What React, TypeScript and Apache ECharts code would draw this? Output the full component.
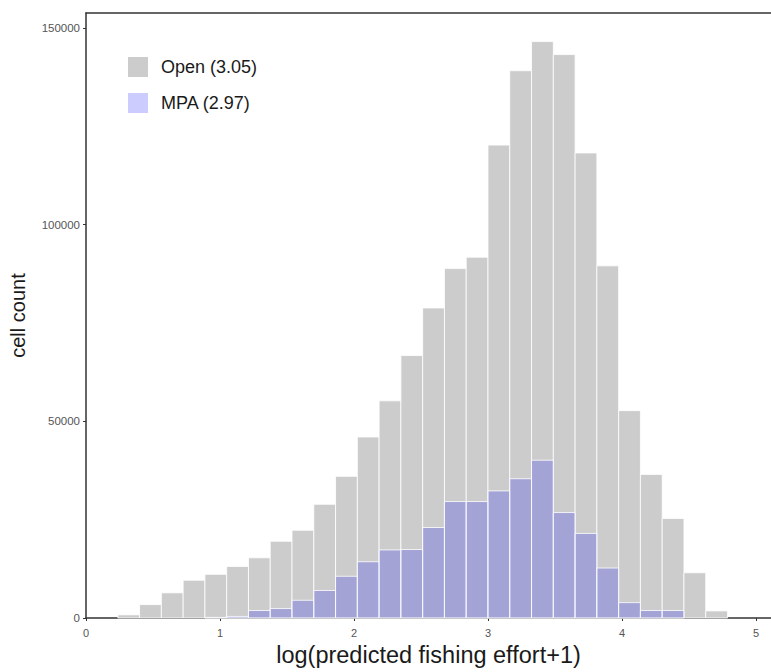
import React, { useEffect, useRef } from "react";
import * as echarts from "echarts";

// Histogram definition (log(predicted fishing effort+1))
const binStart = 0.2375;
const binWidth = 0.1625;

const openCounts = [
  800, 3400, 6400, 9600, 11100, 13100, 15300, 19500, 22300, 28900, 36000, 46000,
  55200, 66700, 78800, 88800, 91700, 120200, 139100, 146500, 143200, 118200,
  89500, 52700, 36500, 25300, 11500, 1800,
];

const mpaCounts = [
  0, 0, 0, 0, 150, 400, 1900, 2400, 4500, 7000, 10600, 14300, 17300, 17400,
  23000, 29600, 29600, 32300, 35400, 40100, 26800, 21500, 12700, 3900, 1900,
  1900, 0, 0,
];

const xTicks = [0, 1, 2, 3, 4, 5];
const yTicks = [0, 50000, 100000, 150000];

const openName = "Open (3.05)";
const mpaName = "MPA (2.97)";

const FONT = "Liberation Sans, Arial, Helvetica, sans-serif";

function toBins(counts: number[]) {
  return counts.map((c, i) => [binStart + i * binWidth, binStart + (i + 1) * binWidth, c]);
}

function renderBin(params: any, api: any) {
  const x0 = api.value(0);
  const x1 = api.value(1);
  const c = api.value(2);
  if (!c) return null;
  const p0 = api.coord([x0, c]);
  const p1 = api.coord([x1, 0]);
  return {
    type: "rect",
    shape: { x: p0[0], y: p0[1], width: p1[0] - p0[0], height: p1[1] - p0[1] },
    style: api.style({ stroke: "#ffffff", lineWidth: 0.8 }),
  };
}

export default function App() {
  const ref = useRef<HTMLDivElement>(null);

  useEffect(() => {
    if (!ref.current) return;
    const chart = echarts.init(ref.current, undefined, { renderer: "svg" });
    chart.setOption({
      animation: false,
      backgroundColor: "#ffffff",
      textStyle: { fontFamily: FONT },
      grid: { left: 86, right: 0, top: 13, bottom: 51, containLabel: false },
      legend: {
        orient: "vertical",
        left: 128,
        top: 57,
        padding: 0,
        itemWidth: 20,
        itemHeight: 20,
        itemGap: 16,
        icon: "rect",
        textStyle: { fontSize: 18, color: "#1a1a1a", fontFamily: FONT, padding: [0, 0, 0, 8] },
        data: [openName, mpaName],
      },
      xAxis: [
        {
          type: "value",
          min: 0,
          max: 5.112,
          position: "bottom",
          name: "log(predicted fishing effort+1)",
          nameLocation: "middle",
          nameGap: 25,
          nameTextStyle: { fontSize: 23.5, color: "#1a1a1a", fontFamily: FONT, verticalAlign: "top" },
          axisLine: { show: true, lineStyle: { color: "#333333", width: 1.5 } },
          axisTick: { show: true, length: 3, customValues: xTicks, lineStyle: { color: "#333333" } },
          axisLabel: {
            show: true,
            customValues: xTicks,
            fontSize: 11,
            color: "#555555",
            margin: 9,
            formatter: (v: number) => String(v),
          },
          splitLine: { show: false },
        },
        {
          type: "value",
          min: 0,
          max: 5.112,
          position: "top",
          axisLine: { show: true, lineStyle: { color: "#333333", width: 1.5 } },
          axisTick: { show: false },
          axisLabel: { show: false },
          splitLine: { show: false },
        },
      ],
      yAxis: {
        type: "value",
        min: 0,
        max: 153770,
        name: "cell count",
        nameLocation: "middle",
        nameGap: 58,
        nameRotate: 90,
        nameTextStyle: { fontSize: 20, color: "#1a1a1a", fontFamily: FONT },
        axisLine: { show: true, lineStyle: { color: "#333333", width: 1.5 } },
        axisTick: { show: true, length: 3, customValues: yTicks, lineStyle: { color: "#333333" } },
        axisLabel: {
          show: true,
          customValues: yTicks,
          fontSize: 11.5,
          color: "#555555",
          margin: 6,
          formatter: (v: number) => String(v),
        },
        splitLine: { show: false },
      },
      series: [
        {
          name: openName,
          type: "custom",
          renderItem: renderBin,
          encode: { x: [0, 1], y: 2 },
          itemStyle: { color: "#cccccc" },
          data: toBins(openCounts),
          z: 1,
        },
        {
          name: mpaName,
          type: "custom",
          renderItem: renderBin,
          encode: { x: [0, 1], y: 2 },
          itemStyle: { color: "rgba(0,0,255,0.2)" },
          data: toBins(mpaCounts),
          z: 2,
        },
      ],
    });
    return () => chart.dispose();
  }, []);

  return (
    <div
      ref={ref}
      style={{ position: "fixed", left: 0, top: 0, width: 771, height: 672, background: "#fff" }}
    />
  );
}
